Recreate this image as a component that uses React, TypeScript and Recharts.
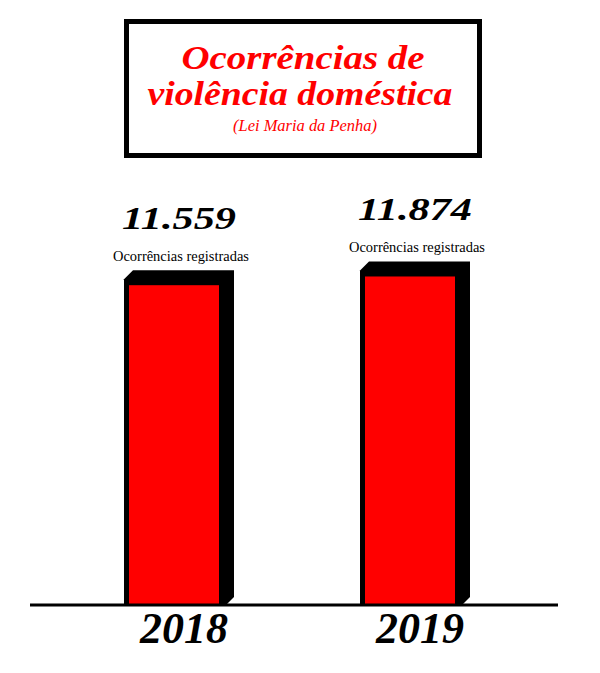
import { Bar, BarChart, LabelList, XAxis, YAxis } from "recharts";

const years = ["2018", "2019"];
const occurrences = [11559, 11874];
const valueLabels = ["11.559", "11.874"];
const caption = "Ocorrências registradas";

const titleLines = ["Ocorrências de", "violência doméstica"];
const subtitle = "(Lei Maria da Penha)";

const data = years.map((year, i) => ({ year, value: occurrences[i], label: valueLabels[i] }));

const RED = "#ff0000";
const serif = "'Liberation Serif', 'DejaVu Serif', serif";

// red bar with a black block behind it (offset up/right, chamfered corners)
function BlockBar(props: any) {
  const { x, y, width, height } = props;
  const b = y + height;
  const pts = [
    [x - 5, y - 6],
    [x + 4, y - 15],
    [x + width + 15, y - 15],
    [x + width + 15, b - 8],
    [x + width + 7, b],
    [x - 5, b],
  ]
    .map((p) => p.join(","))
    .join(" ");
  return (
    <g>
      <polygon points={pts} fill="#000" />
      <rect x={x} y={y} width={width} height={height} fill={RED} />
    </g>
  );
}

function ValueLabel(props: any) {
  const { x, y, width, value } = props;
  const cx = x + width / 2 + 5;
  return (
    <g>
      <text
        x={cx}
        y={y - 56}
        textAnchor="middle"
        fontFamily={serif}
        fontWeight="bold"
        fontStyle="italic"
        fontSize={31}
        textLength={114}
        lengthAdjust="spacingAndGlyphs"
        fill="#000"
      >
        {value}
      </text>
      <text
        x={cx + 2}
        y={y - 24}
        textAnchor="middle"
        fontFamily={serif}
        fontSize={14}
        textLength={136}
        lengthAdjust="spacingAndGlyphs"
        fill="#000"
      >
        {caption}
      </text>
    </g>
  );
}

function YearTick(props: any) {
  const { x, y, payload } = props;
  return (
    <text
      x={x + 10}
      y={y + 38}
      textAnchor="middle"
      fontFamily={serif}
      fontWeight="bold"
      fontStyle="italic"
      fontSize={44}
      fill="#000"
    >
      {payload.value}
    </text>
  );
}

export default function App() {
  return (
    <div style={{ position: "absolute", left: 0, top: 0, width: 600, height: 673, background: "#fff" }}>
      <BarChart width={600} height={673} data={data} margin={{ top: 190, right: 42, bottom: 67, left: 30 }}>
        <YAxis hide domain={[0, 15000]} />
        <XAxis
          dataKey="year"
          height={1}
          axisLine={{ stroke: "#000", strokeWidth: 3 }}
          tickLine={false}
          tickSize={0}
          tickMargin={0}
          padding={{ left: 26, right: 30 }}
          tick={<YearTick />}
        />
        <Bar dataKey="value" barSize={90} shape={<BlockBar />} isAnimationActive={false}>
          <LabelList dataKey="label" content={<ValueLabel />} />
        </Bar>
      </BarChart>
      <svg width={600} height={673} style={{ position: "absolute", left: 0, top: 0, pointerEvents: "none" }}>
        <rect x={126.5} y={21.5} width={353} height={134} fill="none" stroke="#000" strokeWidth={5} />
        <text
          x={303}
          y={69}
          textAnchor="middle"
          fontFamily={serif}
          fontWeight="bold"
          fontStyle="italic"
          fontSize={34}
          textLength={243}
          lengthAdjust="spacingAndGlyphs"
          fill={RED}
        >
          {titleLines[0]}
        </text>
        <text
          x={300}
          y={105}
          textAnchor="middle"
          fontFamily={serif}
          fontWeight="bold"
          fontStyle="italic"
          fontSize={34}
          textLength={305}
          lengthAdjust="spacingAndGlyphs"
          fill={RED}
        >
          {titleLines[1]}
        </text>
        <text
          x={305}
          y={131}
          textAnchor="middle"
          fontFamily={serif}
          fontStyle="italic"
          fontSize={16}
          textLength={144}
          lengthAdjust="spacingAndGlyphs"
          fill={RED}
        >
          {subtitle}
        </text>
      </svg>
    </div>
  );
}
